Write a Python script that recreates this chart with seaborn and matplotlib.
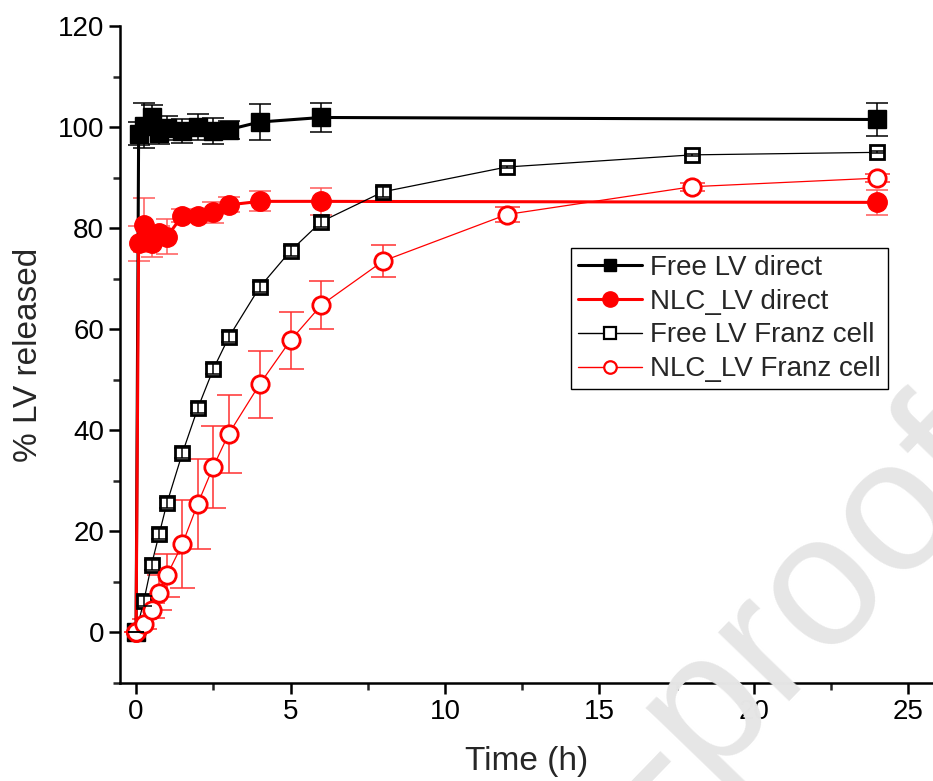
import matplotlib

matplotlib.use("Agg")

import matplotlib.pyplot as plt
import pandas as pd
import seaborn as sns
from matplotlib.lines import Line2D
from matplotlib.ticker import MultipleLocator

# Sampling times (h)
T_DIRECT = [0, 0.083, 0.25, 0.5, 0.75, 1, 1.5, 2, 2.5, 3, 4, 6, 24]
T_FRANZ = [0, 0.25, 0.5, 0.75, 1, 1.5, 2, 2.5, 3, 4, 5, 6, 8, 12, 18, 24]

# % LV released, mean and SD
FREE_DIRECT = [0, 98.7, 100.3, 102.0, 98.8, 99.8, 99.2, 100.0, 99.2, 99.5, 101.0, 101.9, 101.5]
FREE_DIRECT_SD = [0, 2.3, 4.4, 2.4, 2.1, 2.4, 2.3, 2.5, 2.5, 1.8, 3.5, 2.8, 3.3]
NLC_DIRECT = [0, 77.0, 80.6, 77.0, 79.0, 78.3, 82.5, 82.5, 83.1, 84.6, 85.3, 85.3, 85.1]
NLC_DIRECT_SD = [0, 3.5, 5.3, 2.8, 1.5, 3.5, 1.2, 1.0, 2.1, 1.5, 2.0, 2.7, 2.4]
FREE_FRANZ = [0, 6.2, 13.4, 19.5, 25.6, 35.5, 44.4, 52.1, 58.4, 68.3, 75.5, 81.3, 87.2, 92.1, 94.5, 95.0]
FREE_FRANZ_SD = [0, 1.0, 1.0, 1.0, 1.0, 1.0, 1.0, 1.0, 1.0, 1.0, 1.0, 1.0, 1.0, 0.2, 0.2, 0.2]
NLC_FRANZ = [0, 1.6, 4.4, 7.9, 11.3, 17.5, 25.5, 32.8, 39.3, 49.1, 57.8, 64.8, 73.5, 82.7, 88.2, 89.9]
NLC_FRANZ_SD = [0, 1.0, 1.5, 3.5, 4.3, 8.7, 8.9, 8.1, 7.7, 6.6, 5.7, 4.7, 3.1, 1.5, 0.8, 0.8]

LABELS = ["Free LV direct", "NLC_LV direct", "Free LV Franz cell", "NLC_LV Franz cell"]

sns.set_theme(style="ticks")
plt.rcParams["font.family"] = ["Liberation Sans", "DejaVu Sans"]

fig = plt.figure(figsize=(9.33, 7.81), dpi=100)
ax = fig.add_axes([120 / 933, 98 / 781, 813 / 933, 657 / 781])
ax.patch.set_alpha(0)

# faint watermark behind the plot
fig.text(1.078, 0.388, "Journal Pre-proof", rotation=46, rotation_mode="anchor",
         ha="right", va="baseline", fontsize=135, color="#e6e6e6", zorder=0)

# (times, mean, sd, line style, errorbar colour, capsize, errorbar on top of marker)
series = [
    (T_DIRECT, FREE_DIRECT, FREE_DIRECT_SD, dict(color="black", marker="s", ms=12.5, mfc="black",
                                                 mec="black", lw=2.2), "black", 8, False),
    (T_DIRECT, NLC_DIRECT, NLC_DIRECT_SD, dict(color="red", marker="o", ms=14, mfc="red",
                                               mec="red", lw=2.2), "#ff5a5a", 8, False),
    (T_FRANZ, FREE_FRANZ, FREE_FRANZ_SD, dict(color="black", marker="s", ms=9.5, mfc="white",
                                              mec="black", mew=2, lw=0.9), "black", 6, True),
    (T_FRANZ, NLC_FRANZ, NLC_FRANZ_SD, dict(color="red", marker="o", ms=12.5, mfc="white",
                                            mec="red", mew=2, lw=0.9), "#ff3030", 9, False),
]

for t, y, sd, style, ecol, cap, on_top in series:
    ax.errorbar(t, y, yerr=sd, fmt="none", ecolor=ecol, elinewidth=1.1, capsize=cap,
                capthick=1.1, zorder=5 if on_top else 2)
    df = pd.DataFrame({"t": t, "y": y})
    sns.lineplot(data=df, x="t", y="y", ax=ax, estimator=None, sort=False,
                 color=style["color"], lw=style["lw"], zorder=3)
    ax.plot(t, y, ls="none", marker=style["marker"], ms=style["ms"], mfc=style["mfc"],
            mec=style["mec"], mew=style.get("mew", 1), zorder=4)

ax.set_xlim(-0.52, 25.8)
ax.set_ylim(-10, 120)
ax.xaxis.set_major_locator(MultipleLocator(5))
ax.xaxis.set_minor_locator(MultipleLocator(2.5))
ax.yaxis.set_major_locator(MultipleLocator(20))
ax.yaxis.set_minor_locator(MultipleLocator(10))
ax.tick_params(which="major", direction="out", length=8, width=1.8, labelsize=20, colors="black")
ax.tick_params(which="minor", direction="out", length=5, width=1.8)
for side in ["left", "bottom"]:
    ax.spines[side].set_linewidth(1.8)
    ax.spines[side].set_color("black")
for side in ["top", "right"]:
    ax.spines[side].set_visible(False)

ax.set_xlabel("Time (h)", fontsize=24, labelpad=15)
ax.set_ylabel("% LV released", fontsize=24, labelpad=10)

handles = [
    Line2D([0], [0], color="black", lw=2.2, marker="s", ms=9, mfc="black", mec="black"),
    Line2D([0], [0], color="red", lw=2.2, marker="o", ms=11, mfc="red", mec="red"),
    Line2D([0], [0], color="black", lw=1, marker="s", ms=8, mfc="white", mec="black", mew=1.6),
    Line2D([0], [0], color="red", lw=1, marker="o", ms=9, mfc="white", mec="red", mew=1.6),
]
leg = ax.legend(handles, LABELS, loc="upper left", bbox_to_anchor=(571 / 933, 1 - 248 / 781),
                bbox_transform=fig.transFigure, fontsize=20, frameon=True, fancybox=False,
                framealpha=1, edgecolor="black", handlelength=2.3, handletextpad=0.3,
                labelspacing=0.28, borderpad=0.25, borderaxespad=0)
leg.get_frame().set_linewidth(1.0)

fig.savefig("out.png", dpi=100, facecolor="white")
